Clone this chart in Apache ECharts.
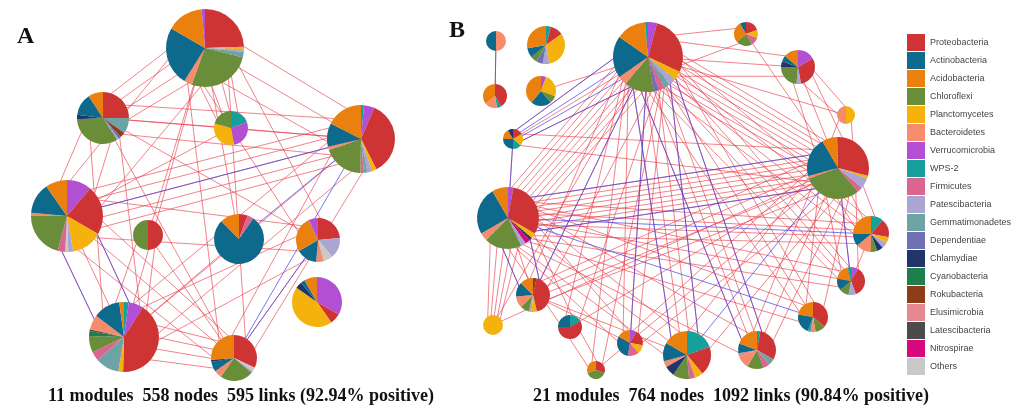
<!DOCTYPE html>
<html>
<head>
<meta charset="utf-8">
<title>Network modules</title>
<script src="https://cdn.jsdelivr.net/npm/echarts@6/dist/echarts.min.js"></script>
</head>
<body style="margin:0;background:#fff">
<div id="main" style="width:1016px;height:409px;"></div>
<script>
// phyla shown in the legend (same order as legend)
var phyla = ['Proteobacteria', 'Actinobacteria', 'Acidobacteria', 'Chloroflexi', 'Planctomycetes',
  'Bacteroidetes', 'Verrucomicrobia', 'WPS-2', 'Firmicutes', 'Patescibacteria', 'Gemmatimonadetes',
  'Dependentiae', 'Chlamydiae', 'Cyanobacteria', 'Rokubacteria', 'Elusimicrobia', 'Latescibacteria',
  'Nitrospirae', 'Others'];
var phylaColors = ['#cf3434', '#0d6a8c', '#ea810e', '#6a8d3a', '#f5b20c', '#f58c6c', '#b24fd3',
  '#17a09b', '#da6690', '#aaa5d2', '#6ea3a5', '#7070b4', '#22356a', '#1d7f4b', '#8f3d19',
  '#e58890', '#4b4b4b', '#d6087c', '#c9c9c9'];

// ---- network A : module positions, module sizes, composition [phylum, share]
var nodesA = [[205, 48], [103, 118], [231, 128], [361, 139], [67, 216], [148, 235],
  [239, 239], [318, 240], [317, 302], [124, 337], [234, 358]];
var sizeA = [39, 26, 17, 34, 36, 15, 25, 22, 25, 35, 23];
var compA = [
  [[0, 88], [4, 4], [9, 4], [10, 8], [3, 96], [5, 12], [1, 88], [2, 55], [6, 5]],
  [[0, 90], [10, 35], [14, 12], [11, 6], [9, 4], [3, 120], [12, 10], [1, 50], [2, 33]],
  [[7, 70], [6, 100], [4, 115], [3, 75]],
  [[7, 5], [6, 18], [0, 130], [4, 8], [9, 8], [10, 6], [8, 6], [3, 70], [5, 6], [1, 40], [2, 63]],
  [[6, 40], [0, 80], [4, 50], [9, 8], [18, 5], [8, 12], [3, 75], [5, 5], [1, 50], [2, 35]],
  [[0, 180], [3, 180]],
  [[0, 20], [8, 15], [1, 280], [2, 45]],
  [[0, 85], [9, 55], [18, 25], [5, 20], [1, 55], [2, 95], [6, 25]],
  [[6, 120], [0, 25], [4, 160], [12, 15], [1, 10], [2, 30]],
  [[7, 8], [6, 25], [0, 150], [4, 8], [10, 40], [8, 15], [3, 28], [13, 8], [16, 3], [5, 25], [1, 45], [2, 8]],
  [[0, 115], [18, 10], [9, 5], [3, 85], [5, 20], [1, 25], [12, 5], [2, 95]]
];
// links between modules: [from, to, number of links]
var posA = [[0, 1, 4], [0, 2, 4], [0, 3, 3], [0, 4, 2], [0, 5, 1], [0, 7, 2], [0, 9, 1], [0, 10, 2],
  [0, 6, 1], [1, 3, 3], [1, 4, 2], [1, 9, 2], [1, 7, 1], [1, 10, 1], [4, 3, 5], [4, 9, 3], [4, 10, 3],
  [4, 7, 2], [3, 9, 3], [3, 10, 2], [5, 9, 2], [5, 10, 1], [9, 10, 4], [9, 7, 2], [10, 7, 1],
  [2, 3, 1], [2, 4, 1], [6, 9, 1], [1, 2, 1]];
var negA = [[4, 3, 1], [4, 9, 2], [3, 6, 1], [3, 10, 1], [7, 10, 1]];
var captionA = '11 modules  558 nodes  595 links (92.94% positive)';

// ---- network B
var nodesB = [[496, 41], [546, 45], [648, 57], [746, 34], [798, 67], [495, 96], [541, 91],
  [846, 115], [513, 139], [838, 168], [508, 218], [871, 234], [851, 281], [533, 295],
  [493, 325], [570, 327], [813, 317], [630, 343], [687, 355], [757, 350], [596, 370]];
var sizeB = [10, 19, 35, 12, 17, 12, 15, 9, 10, 31, 31, 18, 14, 17, 10, 12, 15, 13, 24, 19, 9];
var compB = [
  [[5, 180], [1, 180]],
  [[7, 15], [0, 40], [4, 115], [9, 20], [11, 20], [3, 20], [1, 30], [2, 100]],
  [[6, 15], [0, 100], [4, 15], [9, 12], [10, 10], [8, 10], [11, 8], [3, 50], [5, 15], [1, 70], [2, 50], [7, 5]],
  [[0, 70], [4, 40], [8, 40], [3, 80], [2, 100], [1, 30]],
  [[6, 60], [0, 110], [9, 15], [3, 85], [12, 20], [1, 20], [2, 50]],
  [[0, 150], [7, 20], [5, 60], [2, 130]],
  [[6, 20], [4, 90], [3, 30], [1, 80], [2, 140]],
  [[4, 180], [5, 180]],
  [[0, 60], [4, 70], [7, 50], [1, 90], [2, 60], [12, 30]],
  [[0, 105], [4, 5], [9, 20], [8, 10], [3, 110], [5, 5], [1, 75], [2, 28], [7, 2]],
  [[6, 10], [0, 110], [4, 10], [12, 5], [17, 10], [9, 10], [3, 70], [5, 15], [1, 90], [2, 30]],
  [[7, 40], [0, 60], [4, 20], [9, 20], [12, 20], [3, 20], [5, 50], [1, 40], [2, 90]],
  [[6, 30], [0, 130], [9, 30], [3, 40], [1, 50], [2, 65], [7, 15]],
  [[14, 12], [0, 155], [4, 18], [9, 10], [3, 30], [5, 40], [1, 50], [2, 45]],
  [[4, 360]],
  [[7, 60], [0, 210], [1, 90]],
  [[0, 130], [3, 40], [5, 20], [7, 10], [1, 80], [2, 80]],
  [[6, 30], [0, 70], [4, 40], [8, 50], [1, 110], [2, 60]],
  [[7, 70], [0, 70], [4, 20], [8, 15], [3, 40], [12, 25], [5, 15], [1, 45], [2, 60]],
  [[7, 10], [0, 110], [10, 20], [8, 20], [3, 50], [5, 40], [15, 10], [1, 30], [2, 70]],
  [[0, 110], [3, 140], [2, 110]]
];
var posB = [[2, 10, 8], [2, 9, 8], [10, 9, 8], [2, 4, 3], [2, 3, 2], [2, 7, 1], [2, 11, 4], [2, 12, 4],
  [2, 13, 3], [2, 14, 1], [2, 15, 2], [2, 16, 3], [2, 17, 3], [2, 18, 4], [2, 19, 4], [2, 20, 2],
  [8, 2, 3], [8, 9, 2], [8, 10, 1], [10, 11, 4], [10, 12, 3], [10, 13, 3], [10, 14, 5], [10, 15, 2],
  [10, 16, 2], [10, 17, 2], [10, 18, 3], [10, 19, 2], [9, 4, 3], [9, 7, 2], [9, 11, 3], [9, 12, 3],
  [9, 13, 4], [9, 16, 2], [9, 17, 2], [9, 18, 2], [9, 19, 3], [9, 20, 1], [9, 15, 1], [9, 14, 1],
  [4, 7, 2], [15, 20, 2], [0, 5, 1], [13, 17, 1], [13, 18, 1], [11, 12, 1], [6, 2, 1], [3, 9, 1]];
var negB = [[0, 5, 1], [8, 2, 4], [10, 8, 1], [2, 19, 2], [2, 18, 2], [2, 17, 1], [10, 11, 1],
  [9, 18, 1], [10, 16, 1], [10, 13, 2], [9, 10, 2], [2, 13, 1], [9, 12, 1]];
var captionB = '21 modules  764 nodes  1092 links (90.84% positive)';

var myChart = echarts.init(document.getElementById('main'));

// parallel links between two modules fan out over the width of each module
function linkData(nodes, sizes, pairs) {
  var out = [];
  pairs.forEach(function (p) {
    var a = nodes[p[0]], b = nodes[p[1]], n = p[2];
    var dx = b[0] - a[0], dy = b[1] - a[1];
    var len = Math.sqrt(dx * dx + dy * dy);
    var px = -dy / len, py = dx / len;
    for (var k = 0; k < n; k++) {
      var t = n > 1 ? k / (n - 1) * 2 - 1 : 0;
      var oa = t * sizes[p[0]] * 0.55, ob = t * sizes[p[1]] * 0.55;
      out.push({ coords: [[a[0] + px * oa, a[1] + py * oa], [b[0] + px * ob, b[1] + py * ob]] });
    }
  });
  return out;
}

function linkSeries(nodes, sizes, pairs, color) {
  return {
    type: 'lines',
    coordinateSystem: 'cartesian2d',
    silent: true,
    z: 1,
    lineStyle: { color: color, width: 1, opacity: 1 },
    data: linkData(nodes, sizes, pairs)
  };
}

var red = 'rgba(230,56,70,0.62)';
var blue = 'rgba(64,64,232,0.7)';
var serif = '"Liberation Serif", "DejaVu Serif", serif';

myChart.setOption({
  animation: false,
  grid: { left: 0, top: 0, width: 1016, height: 409, show: false },
  xAxis: { type: 'value', min: 0, max: 1016, show: false },
  yAxis: { type: 'value', min: 0, max: 409, inverse: true, show: false },
  legend: {
    data: phyla,
    orient: 'vertical',
    left: 907,
    top: 34,
    padding: 0,
    icon: 'rect',
    itemWidth: 18,
    itemHeight: 17,
    itemGap: 1,
    selectedMode: false,
    textStyle: { fontSize: 9, color: '#444', fontFamily: 'Liberation Sans, Arial' }
  },
  graphic: [
    { type: 'text', x: 17, y: 25, style: { text: 'A', font: 'bold 24px ' + serif, fill: '#111' } },
    { type: 'text', x: 449, y: 19, style: { text: 'B', font: 'bold 24px ' + serif, fill: '#111' } },
    { type: 'text', x: 241, y: 396, style: { text: captionA, font: 'bold 18px ' + serif, fill: '#111', align: 'center', verticalAlign: 'middle' } },
    { type: 'text', x: 731, y: 396, style: { text: captionB, font: 'bold 18px ' + serif, fill: '#111', align: 'center', verticalAlign: 'middle' } }
  ],
  series: [
    linkSeries(nodesA, sizeA, posA, red), linkSeries(nodesA, sizeA, negA, blue),
    linkSeries(nodesB, sizeB, posB, red), linkSeries(nodesB, sizeB, negB, blue)
  ]
});

// pies at module positions, placed through the grid's scales
function pieSeries(nodes, sizes, comp) {
  return nodes.map(function (n, i) {
    var c = myChart.convertToPixel({ gridIndex: 0 }, n);
    var e = myChart.convertToPixel({ gridIndex: 0 }, [n[0] + sizes[i], n[1]]);
    return {
      type: 'pie',
      center: c,
      radius: e[0] - c[0],
      startAngle: 90,
      clockwise: true,
      silent: true,
      z: 3,
      avoidLabelOverlap: false,
      label: { show: false },
      labelLine: { show: false },
      emphasis: { disabled: true },
      itemStyle: { borderWidth: 0 },
      data: comp[i].map(function (s) {
        return { name: phyla[s[0]], value: s[1], itemStyle: { color: phylaColors[s[0]] } };
      })
    };
  });
}

var opt = myChart.getOption();
myChart.setOption({
  series: opt.series.concat(pieSeries(nodesA, sizeA, compA), pieSeries(nodesB, sizeB, compB))
});
</script>
</body>
</html>
